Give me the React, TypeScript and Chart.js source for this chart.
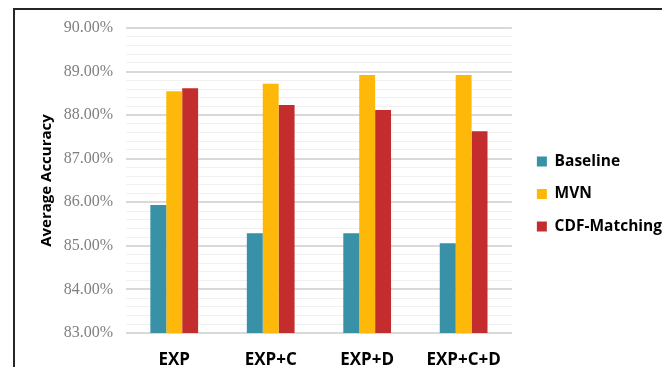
import React, { useEffect, useRef } from 'react';
import { Chart, registerables } from 'chart.js';

Chart.register(...registerables);

const categories = ['EXP', 'EXP+C', 'EXP+D', 'EXP+C+D'];
const baseline = [85.94, 85.29, 85.29, 85.06];
const mvn = [88.55, 88.72, 88.92, 88.92];
const cdfMatching = [88.62, 88.23, 88.12, 87.63];
const seriesNames = ['Baseline', 'MVN', 'CDF-Matching'];
const seriesColors = ['#3891A7', '#FEB80A', '#C32D2E'];
const yMin = 83;
const yMax = 90;
const yStep = 0.2;
const yTitle = 'Average Accuracy';

const isMajor = (v: number) => Math.abs(v - Math.round(v)) < 1e-6;

export default function App() {
  const ref = useRef<HTMLCanvasElement | null>(null);

  useEffect(() => {
    const canvas = ref.current;
    if (!canvas) return;
    const chart = new Chart(canvas, {
      type: 'bar',
      data: {
        labels: categories,
        datasets: [baseline, mvn, cdfMatching].map((d, i) => ({
          label: seriesNames[i],
          data: d,
          backgroundColor: seriesColors[i],
          borderWidth: 0,
          categoryPercentage: 0.495,
          barPercentage: 1,
          yAxisID: 'y',
        })),
      },
      options: {
        responsive: false,
        animation: false,
        layout: { padding: { top: 18, left: 0, right: -2, bottom: 0 } },
        plugins: {
          tooltip: { enabled: false },
          legend: {
            position: 'right',
            align: 'center',
            maxWidth: 200,
            title: {
              display: true,
              text: '',
              font: { size: 1, lineHeight: 1 },
              padding: { top: -8, bottom: 0 },
            },
            labels: {
              boxWidth: 10,
              boxHeight: 10,
              padding: 17,
              color: '#000',
              font: { family: 'Open Sans', size: 15.5, weight: 'bold' },
            },
          },
        },
        scales: {
          x: {
            grid: { display: false },
            border: { display: false },
            ticks: {
              color: '#000',
              padding: 9,
              font: { family: 'Open Sans', size: 17, weight: 'bold' },
            },
            afterFit: (s: any) => {
              s.height = 34;
            },
          },
          y: {
            min: yMin,
            max: yMax,
            border: { display: false },
            grid: {
              drawTicks: false,
              color: (ctx: any) => (ctx.tick && isMajor(ctx.tick.value) ? '#d9d9d9' : '#f0f0f0'),
              lineWidth: (ctx: any) => (ctx.tick && isMajor(ctx.tick.value) ? 2 : 1),
            },
            ticks: {
              stepSize: yStep,
              autoSkip: false,
              padding: 13,
              color: '#7f7f7f',
              font: { family: 'Liberation Serif', size: 16, lineHeight: 0.6 },
              callback: (v: any) => (isMajor(Number(v)) ? Number(v).toFixed(2) + '%' : ''),
            },
            title: {
              display: true,
              text: yTitle,
              color: '#000',
              font: { family: 'Open Sans', size: 15, weight: 'bold' },
              padding: { top: 23, bottom: 0 },
            },
            afterFit: (s: any) => {
              s.width = 111;
            },
          },
          yr: {
            type: 'linear',
            position: 'right',
            display: true,
            grid: { display: false },
            border: { display: false },
            ticks: { display: false },
            afterFit: (s: any) => {
              s.width = 8;
            },
          },
        },
      } as any,
    });
    return () => chart.destroy();
  }, []);

  return (
    <div
      style={{
        marginLeft: 5,
        borderLeft: '2px solid #262626',
        borderTop: '2px solid #262626',
        width: 655,
        height: 357,
      }}
    >
      <canvas ref={ref} width={655} height={357} style={{ display: 'block' }} />
    </div>
  );
}
